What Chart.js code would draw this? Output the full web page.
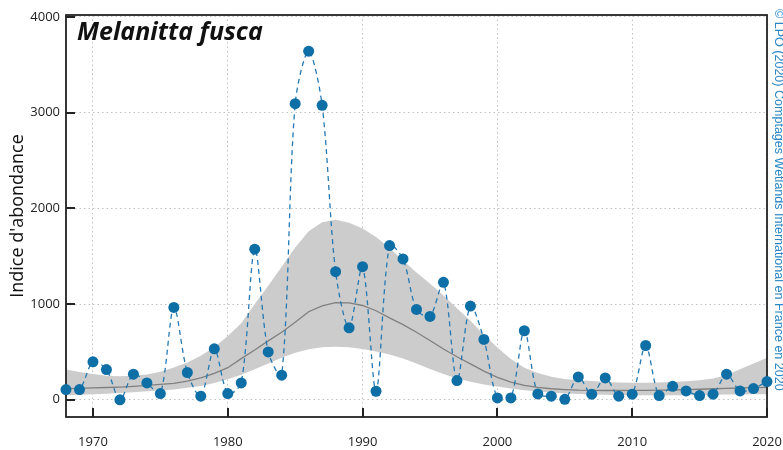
<!DOCTYPE html>
<html><head><meta charset="utf-8">
<script src="https://cdn.jsdelivr.net/npm/chart.js@4.4.1/dist/chart.umd.min.js"></script>
<style>html,body{margin:0;padding:0;background:#fff;}canvas{display:block;}</style>
</head><body>
<canvas id="c" width="783" height="450"></canvas>
<script>
const years = [1968,1969,1970,1971,1972,1973,1974,1975,1976,1977,
  1978,1979,1980,1981,1982,1983,1984,1985,1986,1987,
  1988,1989,1990,1991,1992,1993,1994,1995,1996,1997,
  1998,1999,2000,2001,2002,2003,2004,2005,2006,2007,
  2008,2009,2010,2011,2012,2013,2014,2015,2016,2017,
  2018,2019,2020];
const abundance = [107,107,396,316,0,267,176,65,965,285,
  37,532,65,176,1573,500,257,3094,3642,3076,
  1338,752,1391,89,1611,1471,944,871,1227,201,
  979,630,19,19,721,61,37,5,239,58,
  228,37,58,567,44,141,92,44,58,267,
  92,117,190];
const trend = [117,120,124,128,133,140,150,160,172,195,
  230,275,335,430,520,615,705,810,920,980,
  1015,1012,985,930,855,785,705,620,530,450,
  375,300,235,185,150,130,115,106,100,98,
  97,97,98,99,100,102,105,110,115,120,
  123,126,130];
const upper = [316,290,268,252,246,250,265,292,338,390,
  460,550,665,800,1000,1190,1390,1590,1760,1855,
  1880,1850,1790,1700,1585,1455,1330,1215,1090,955,
  825,680,545,425,335,280,240,218,205,195,
  186,180,177,177,180,185,193,204,222,260,
  318,378,440];
const lower = [47,53,58,64,70,78,88,98,108,125,
  145,175,215,262,318,380,440,490,528,548,
  555,548,530,505,472,432,380,322,270,222,
  187,160,138,118,100,86,75,66,60,55,
  52,50,48,47,47,47,48,50,52,54,
  56,57,58];
const xTicks = [1970,1980,1990,2000,2010,2020];
const yTicks = [0,1000,2000,3000,4000];
const titleText = 'Melanitta fusca';
const yTitle = "Indice d'abondance";
const creditText = '© LPO (2020) Comptages Wetlands International en France en 2020';

const toXY = arr => years.map((yr, i) => ({x: yr, y: arr[i]}));

const framePlugin = {
  id: 'frame',
  beforeDatasetDraw(chart, args) {
    if (args.index !== 3) return;
    const {ctx, chartArea: a, scales} = chart;
    ctx.save();
    ctx.strokeStyle = '#222';
    ctx.lineWidth = 1.8;
    ctx.strokeRect(a.left, a.top, a.right - a.left, a.bottom - a.top);
    ctx.lineWidth = 2;
    ctx.beginPath();
    xTicks.forEach(v => {
      const px = Math.round(scales.x.getPixelForValue(v));
      ctx.moveTo(px, a.bottom); ctx.lineTo(px, a.bottom - 9);
    });
    yTicks.forEach(v => {
      const py = Math.round(scales.y.getPixelForValue(v));
      ctx.moveTo(a.left, py); ctx.lineTo(a.left + 9, py);
    });
    ctx.stroke();
    ctx.restore();
  },
  afterDraw(chart) {
    const {ctx, chartArea: a} = chart;
    ctx.save();
    ctx.fillStyle = '#111';
    ctx.font = 'italic bold 25px "Open Sans"';
    ctx.textBaseline = 'alphabetic';
    ctx.textAlign = 'left';
    ctx.fillText(titleText, a.left + 11, 40);

    ctx.save();
    ctx.translate(23, (a.top + a.bottom) / 2);
    ctx.rotate(-Math.PI / 2);
    ctx.font = '18px "Open Sans"';
    ctx.textAlign = 'center';
    ctx.fillStyle = '#111';
    ctx.fillText(yTitle, 0, 0);
    ctx.restore();

    ctx.save();
    ctx.translate(775, 9);
    ctx.rotate(Math.PI / 2);
    ctx.font = '12px "Liberation Sans"';
    const w = ctx.measureText(creditText).width;
    const fs = 12 * 382 / w;
    ctx.font = fs.toFixed(2) + 'px "Liberation Sans"';
    ctx.fillStyle = '#2a86c4';
    ctx.textAlign = 'left';
    ctx.fillText(creditText, 0, 0);
    ctx.restore();
    ctx.restore();
  }
};

new Chart(document.getElementById('c'), {
  type: 'line',
  data: {
    datasets: [
      {label: 'lower', data: toXY(lower), borderColor: 'rgba(0,0,0,0)', borderWidth: 0, pointRadius: 0, fill: false, order: 3},
      {label: 'upper', data: toXY(upper), borderColor: 'rgba(0,0,0,0)', borderWidth: 0, pointRadius: 0, fill: '-1', backgroundColor: '#cccccc', order: 3},
      {label: 'trend', data: toXY(trend), borderColor: '#808080', borderWidth: 1.3, pointRadius: 0, fill: false, order: 2},
      {label: 'abondance', data: toXY(abundance), borderColor: '#2479b2', borderWidth: 1.3, borderDash: [5, 4],
       tension: 0.3, pointRadius: 5.5, pointBackgroundColor: '#0e6ea6', pointBorderWidth: 0,
       fill: false, clip: false, order: 1}
    ]
  },
  options: {
    responsive: false, animation: false, devicePixelRatio: 1,
    layout: {padding: {top: 15, right: 16, left: 0, bottom: 0}},
    plugins: {legend: {display: false}, tooltip: {enabled: false}},
    scales: {
      x: {
        type: 'linear', min: 1968, max: 2020,
        afterBuildTicks: s => { s.ticks = xTicks.map(v => ({value: v})); },
        afterFit: s => { s.height = 33; s.paddingLeft = 0; s.paddingRight = 0; },
        grid: {color: '#c2c2c2', lineWidth: 1, drawTicks: false},
        border: {display: false, dash: [1.5, 3]},
        ticks: {padding: 17, autoSkip: false, maxRotation: 0, color: '#222',
                font: {family: 'Open Sans', size: 13}, callback: v => String(v)}
      },
      y: {
        type: 'linear', min: -180, max: 4020,
        afterBuildTicks: s => { s.ticks = yTicks.map(v => ({value: v})); },
        afterFit: s => { s.width = 66; s.paddingTop = 0; s.paddingBottom = 0; },
        grid: {color: '#c2c2c2', lineWidth: 1, drawTicks: false},
        border: {display: false, dash: [1.5, 3]},
        ticks: {padding: 6, color: '#222', font: {family: 'Open Sans', size: 13}, callback: v => String(v)}
      }
    }
  },
  plugins: [framePlugin]
});
</script>
</body></html>
